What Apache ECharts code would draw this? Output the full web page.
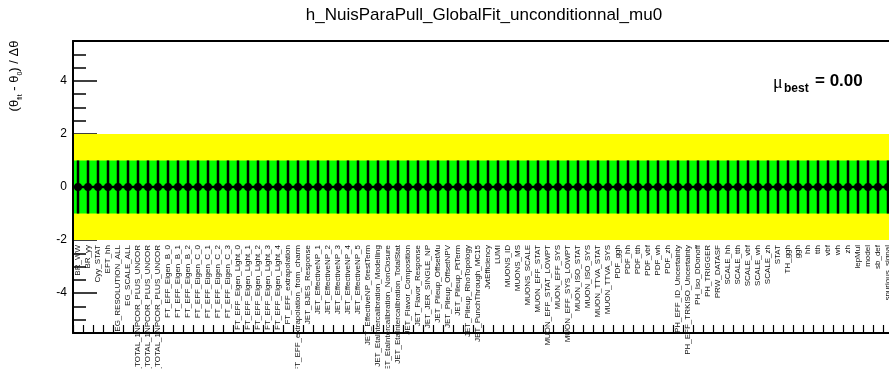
<!DOCTYPE html>
<html>
<head>
<meta charset="utf-8">
<script src="https://cdn.jsdelivr.net/npm/echarts@6/dist/echarts.min.js"></script>
<style>
  html, body { margin: 0; padding: 0; background: #fff; }
  #chart { width: 889px; height: 372px; }
</style>
</head>
<body>
<div id="chart"></div>
<script>
// Nuisance parameter names, one bin each
const categories = [
  'BR_WW', 'BR_yy', 'Cyy_STAT', 'EFT_hh', 'EG_RESOLUTION_ALL', 'EG_SCALE_ALL',
  'EL_EFF_ID_TOTAL_1NPCOR_PLUS_UNCOR', 'EL_EFF_Iso_TOTAL_1NPCOR_PLUS_UNCOR', 'EL_EFF_Reco_TOTAL_1NPCOR_PLUS_UNCOR',
  'FT_EFF_Eigen_B_0', 'FT_EFF_Eigen_B_1', 'FT_EFF_Eigen_B_2',
  'FT_EFF_Eigen_C_0', 'FT_EFF_Eigen_C_1', 'FT_EFF_Eigen_C_2', 'FT_EFF_Eigen_C_3',
  'FT_EFF_Eigen_Light_0', 'FT_EFF_Eigen_Light_1', 'FT_EFF_Eigen_Light_2', 'FT_EFF_Eigen_Light_3', 'FT_EFF_Eigen_Light_4',
  'FT_EFF_extrapolation', 'FT_EFF_extrapolation_from_charm',
  'JET_BJES_Response', 'JET_EffectiveNP_1', 'JET_EffectiveNP_2', 'JET_EffectiveNP_3', 'JET_EffectiveNP_4',
  'JET_EffectiveNP_5', 'JET_EffectiveNP_6restTerm',
  'JET_EtaIntercalibration_Modelling', 'JET_EtaIntercalibration_NonClosure', 'JET_EtaIntercalibration_TotalStat',
  'JET_Flavor_Composition', 'JET_Flavor_Response', 'JET_JER_SINGLE_NP',
  'JET_Pileup_OffsetMu', 'JET_Pileup_OffsetNPV', 'JET_Pileup_PtTerm', 'JET_Pileup_RhoTopology',
  'JET_PunchThrough_MC15', 'JvtEfficiency', 'LUMI', 'MUONS_ID', 'MUONS_MS', 'MUONS_SCALE',
  'MUON_EFF_STAT', 'MUON_EFF_STAT_LOWPT', 'MUON_EFF_SYS', 'MUON_EFF_SYS_LOWPT',
  'MUON_ISO_STAT', 'MUON_ISO_SYS', 'MUON_TTVA_STAT', 'MUON_TTVA_SYS',
  'PDF_ggh', 'PDF_hh', 'PDF_tth', 'PDF_vbf', 'PDF_wh', 'PDF_zh',
  'PH_EFF_ID_Uncertainty', 'PH_EFF_TRKISO_Uncertainty', 'PH_Iso_DDonoff', 'PH_TRIGGER', 'PRW_DATASF',
  'SCALE_hh', 'SCALE_tth', 'SCALE_vbf', 'SCALE_wh', 'SCALE_zh', 'STAT', 'TH_ggh',
  'ggh', 'hh', 'tth', 'vbf', 'wh', 'zh', 'lepMul', 'model', 'sb_def', 'spurious_signal'
];

// Fitted pulls (theta_fit - theta_0) / delta_theta
const pulls = [
  0, 0, 0, 0, 0, 0, 0, 0, 0, 0,
  0, 0, 0, 0, 0, 0, 0, 0, 0, 0,
  0, 0, 0, 0, 0, 0, 0, 0, 0, 0,
  0, 0, 0, 0, 0, 0, 0, 0, 0, 0,
  0, 0, 0, 0, 0, 0, 0, 0, 0, 0,
  0, 0, 0, 0, 0, 0, 0, 0, 0, 0,
  0, 0, 0, 0, 0, 0, 0, 0, 0, 0,
  0, 0, 0, 0, 0, 0, 0, 0, 0, 0,
  0, 0
];

// Post-fit constraints (downward and upward errors)
const errDown = [
  1, 1, 1, 1, 1, 1, 1, 1, 1, 1,
  1, 1, 1, 1, 1, 1, 1, 1, 1, 1,
  1, 1, 1, 1, 1, 1, 1, 1, 1, 1,
  1, 1, 1, 1, 1, 1, 1, 1, 1, 1,
  1, 1, 1, 1, 1, 1, 1, 1, 1, 1,
  1, 1, 1, 1, 1, 1, 1, 1, 1, 1,
  1, 1, 1, 1, 1, 1, 1, 1, 1, 1,
  1, 1, 1, 1, 1, 1, 1, 1, 1, 1,
  1, 1
];
const errUp = [
  1, 1, 1, 1, 1, 1, 1, 1, 1, 1,
  1, 1, 1, 1, 1, 1, 1, 1, 1, 1,
  1, 1, 1, 1, 1, 1, 1, 1, 1, 1,
  1, 1, 1, 1, 1, 1, 1, 1, 1, 1,
  1, 1, 1, 1, 1, 1, 1, 1, 1, 1,
  1, 1, 1, 1, 1, 1, 1, 1, 1, 1,
  1, 1, 1, 1, 1, 1, 1, 1, 1, 1,
  1, 1, 1, 1, 1, 1, 1, 1, 1, 1,
  1, 1
];

// +-2 sigma and +-1 sigma reference bands
const bandSigmas = [2, 1];
const bandColors = ['#ffff00', '#00ff00'];

// Y axis tick labels and minor tick positions
const yTickLabels = [-4, -2, 0, 2, 4];
const yMinorTicks = [-5, -4.5, -4, -3.5, -3, -2.5, -2, -1.5, -1, -0.5, 0, 0.5, 1, 1.5, 2, 2.5, 3, 3.5, 4, 4.5, 5];
const yRange = [-5.5, 5.5];

const muBest = 0.00;
const titleText = 'h_NuisParaPull_GlobalFit_unconditionnal_mu0';

const FONT = '"Liberation Sans", Arial, Helvetica, sans-serif';

const chart = echarts.init(document.getElementById('chart'), null, { renderer: 'canvas' });

const pointData = categories.map((name, i) => [i, pulls[i], errDown[i], errUp[i]]);

function renderBand(params, api) {
  const cs = params.coordSys;
  const s = api.value(0);
  const top = api.coord([0, s])[1];
  const bot = api.coord([0, -s])[1];
  return {
    type: 'rect',
    shape: { x: cs.x, y: top, width: cs.width, height: bot - top },
    style: { fill: bandColors[params.dataIndex] }
  };
}

function renderPoint(params, api) {
  const i = api.value(0);
  const v = api.value(1);
  const lo = api.value(2);
  const hi = api.value(3);
  const c = api.coord([i, v]);
  const yTop = api.coord([i, v + hi])[1];
  const yBot = api.coord([i, v - lo])[1];
  const w = api.size([1, 0])[0];
  return {
    type: 'group',
    children: [
      { type: 'line', shape: { x1: c[0] - w / 2, y1: c[1], x2: c[0] + w / 2, y2: c[1] },
        style: { stroke: '#000', lineWidth: 2.5 } },
      { type: 'line', shape: { x1: c[0], y1: yTop, x2: c[0], y2: yBot },
        style: { stroke: '#000', lineWidth: 2.5 } },
      { type: 'circle', shape: { cx: c[0], cy: c[1], r: 4 }, style: { fill: '#000' } }
    ]
  };
}

const option = {
  backgroundColor: '#fff',
  animation: false,
  textStyle: { fontFamily: FONT },
  grid: {
    left: 73, top: 41, right: -4, bottom: 39,
    containLabel: false, outerBoundsMode: 'none',
    show: false
  },
  xAxis: [
    {
      type: 'category',
      data: categories,
      boundaryGap: true,
      position: 'bottom',
      axisLine: { show: true, onZero: false, lineStyle: { color: '#000', width: 2 } },
      axisTick: { show: true, inside: true, length: 8, interval: 0, alignWithLabel: false, lineStyle: { color: '#000', width: 1.2 } },
      axisLabel: {
        interval: 0, rotate: 90, margin: -88, fontSize: 8, color: '#111', fontFamily: FONT,
        hideOverlap: false, overflow: 'none', width: 400
      },
      splitLine: { show: false }
    },
    {
      // frame line along the top edge of the plot
      type: 'category',
      data: categories,
      position: 'top',
      axisLine: { show: true, onZero: false, lineStyle: { color: '#000', width: 2 } },
      axisTick: { show: false },
      axisLabel: { show: false },
      splitLine: { show: false }
    }
  ],
  yAxis: [
    {
      type: 'value', min: yRange[0], max: yRange[1],
      axisLine: { show: false },
      splitLine: { show: false },
      axisTick: { show: true, inside: true, length: 24, customValues: yTickLabels, lineStyle: { color: '#000', width: 1.5 } },
      axisLabel: { customValues: yTickLabels, fontSize: 12, margin: 6, color: '#000', fontFamily: FONT }
    },
    {
      type: 'value', min: yRange[0], max: yRange[1], position: 'left',
      axisLine: { show: false },
      splitLine: { show: false },
      axisLabel: { show: false },
      axisTick: { show: true, inside: true, length: 13, customValues: yMinorTicks, lineStyle: { color: '#000', width: 1.5 } }
    },
    {
      type: 'value', min: yRange[0], max: yRange[1], position: 'left', z: 10,
      axisLine: { show: true, lineStyle: { color: '#000', width: 2 } },
      splitLine: { show: false },
      axisLabel: { show: false },
      axisTick: { show: false }
    }
  ],
  series: [
    {
      type: 'custom', name: 'bands', z: 2, silent: true,
      renderItem: renderBand,
      data: bandSigmas.map(s => [s]),
      encode: { x: -1, y: 0 }
    },
    {
      type: 'custom', name: 'pulls', z: 3,
      renderItem: renderPoint,
      data: pointData,
      encode: { x: 0, y: [1, 2, 3] }
    }
  ],
  graphic: [
    {
      // canvas margin below the bin labels
      type: 'rect', z: 30, silent: true,
      shape: { x: 0, y: 368.5, width: 889, height: 4 },
      style: { fill: '#fff' }
    },
    {
      type: 'text', x: 484, y: 15, z: 20,
      style: { text: titleText, font: '17px ' + FONT, fill: '#000', align: 'center', verticalAlign: 'middle' }
    },
    {
      type: 'text', x: 14, y: 76, rotation: Math.PI / 2, z: 20,
      style: {
        text: '{a|(θ}{s|fit}{a| - θ}{s|0}{a|) / Δθ}',
        align: 'center', verticalAlign: 'middle',
        rich: {
          a: { fontSize: 13, fontFamily: FONT, fill: '#000', lineHeight: 20, verticalAlign: 'middle' },
          s: { fontSize: 7, fontFamily: FONT, fill: '#000', lineHeight: 20, verticalAlign: 'bottom' }
        }
      }
    },
    {
      type: 'text', x: 773, y: 74, z: 20,
      style: { text: 'μ', font: '18px "Liberation Serif", serif', fill: '#000', align: 'left', verticalAlign: 'alphabetic' }
    },
    {
      type: 'text', x: 784, y: 83, z: 20,
      style: { text: 'best', font: 'bold 12px ' + FONT, fill: '#000', align: 'left', verticalAlign: 'alphabetic' }
    },
    {
      type: 'text', x: 815, y: 73, z: 20,
      style: { text: '= ' + muBest.toFixed(2), font: 'bold 17px ' + FONT, fill: '#000', align: 'left', verticalAlign: 'alphabetic' }
    }
  ]
};

chart.setOption(option);
</script>
</body>
</html>
